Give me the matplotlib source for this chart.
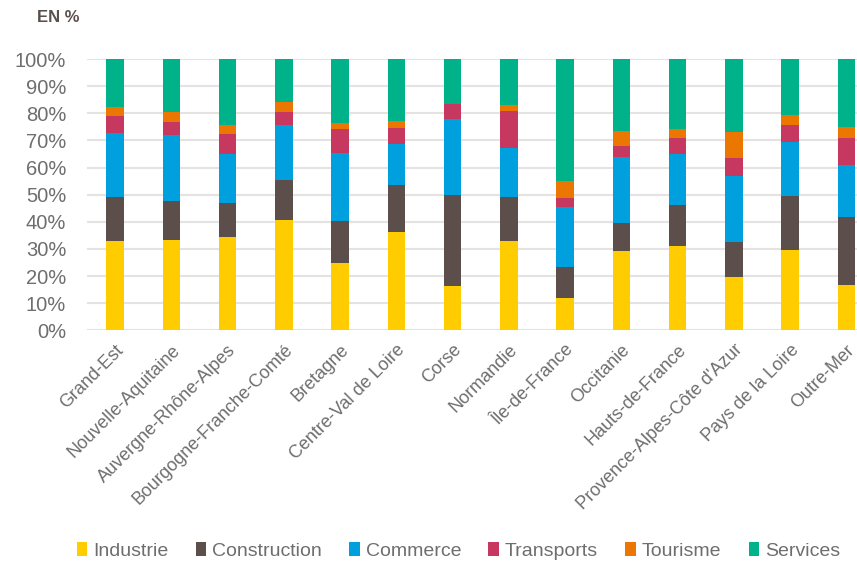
import matplotlib
matplotlib.use("Agg")
import matplotlib.pyplot as plt
from matplotlib.ticker import PercentFormatter
import numpy as np

# regions and shares (in %)
regions = ["Grand-Est", "Nouvelle-Aquitaine", "Auvergne-Rhône-Alpes",
           "Bourgogne-Franche-Comté", "Bretagne", "Centre-Val de Loire",
           "Corse", "Normandie", "Île-de-France", "Occitanie",
           "Hauts-de-France", "Provence-Alpes-Côte d'Azur",
           "Pays de la Loire", "Outre-Mer"]
industrie    = [32.8, 33.3, 34.5, 40.5, 24.7, 36.2, 16.4, 32.8, 11.8, 29.3, 31.0, 19.5, 29.5, 16.8]
construction = [16.3, 14.5, 12.3, 15.0, 15.5, 17.4, 33.5, 16.2, 11.5, 10.4, 15.3, 12.9, 19.9, 25.1]
commerce     = [23.5, 24.2, 18.1, 20.1, 25.0, 15.0, 27.9, 18.1, 22.3, 24.2, 18.6, 24.4, 19.9, 19.0]
transports   = [6.5, 4.7, 7.3, 5.0, 8.9, 6.1, 5.5, 13.6, 3.3, 4.1, 6.1, 6.6, 6.3, 10.1]
tourisme     = [3.1, 3.9, 3.6, 3.4, 2.3, 2.4, 0.0, 2.2, 6.1, 5.5, 3.2, 9.7, 3.6, 3.9]
services     = [17.8, 19.4, 24.2, 16.0, 23.6, 22.9, 16.7, 17.1, 45.0, 26.5, 25.8, 26.9, 20.8, 25.1]

series = [("Industrie", industrie, "#FFCC00"),
          ("Construction", construction, "#5C4F4B"),
          ("Commerce", commerce, "#00A0DF"),
          ("Transports", transports, "#C73861"),
          ("Tourisme", tourisme, "#EC7700"),
          ("Services", services, "#00B28A")]

plt.rcParams["font.family"] = ["Liberation Sans", "DejaVu Sans"]

grey = "#6E6E6E"
fig = plt.figure(figsize=(8.57, 5.61), dpi=100)
ax = fig.add_axes([0.1015, 0.4112, 0.8985, 0.4836])

x = np.arange(len(regions))
bottom = np.zeros(len(regions))
for name, vals, col in series:
    ax.bar(x, vals, width=0.31, bottom=bottom, color=col, label=name,
           edgecolor="none", zorder=3)
    bottom += np.array(vals)

ax.set_ylim(0, 100)
ax.set_xlim(-0.5, 13.19)
ax.set_yticks(np.arange(0, 101, 10))
ax.yaxis.set_major_formatter(PercentFormatter(decimals=0))
ax.grid(axis="y", color="#E6E2E2", linewidth=1.5, zorder=0)
for s in ax.spines.values():
    s.set_visible(False)
ax.tick_params(axis="both", length=0, colors=grey)
ax.tick_params(axis="y", labelsize=14.5, pad=15)
ax.set_xticks(x)
ax.set_xticklabels(regions, rotation=45, ha="right", rotation_mode="anchor",
                   fontsize=13, color=grey)
ax.tick_params(axis="x", pad=8)

fig.text(0.043, 0.968, "EN %", fontsize=12, fontweight="bold",
         color="#5A4F4B", va="center", ha="left")

leg = fig.legend(loc="center", bbox_to_anchor=(0.535, 0.018), ncol=6,
                 frameon=False, fontsize=14, handlelength=0.55,
                 handleheight=0.7, handletextpad=0.3, columnspacing=1.4,
                 labelcolor=grey)

fig.savefig("out.png", dpi=100)
